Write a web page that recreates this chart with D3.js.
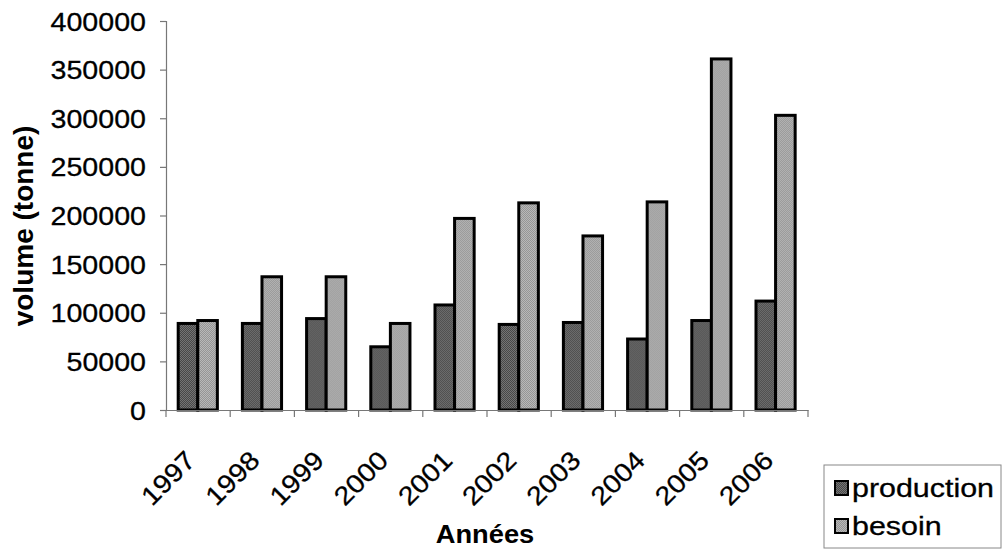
<!DOCTYPE html>
<html>
<head>
<meta charset="utf-8">
<script src="https://cdn.jsdelivr.net/npm/d3@7"></script>
<style>
  html, body { margin: 0; padding: 0; background: #fff; }
  svg { display: block; }
  text { font-family: "Liberation Sans", Arial, sans-serif; fill: #000; }
</style>
</head>
<body>
<svg id="chart" width="1004" height="555"></svg>
<script>
// Annual volumes in tonnes
const years = ["1997","1998","1999","2000","2001","2002","2003","2004","2005","2006"];
const production = [89000, 89000, 94000, 65000, 108000, 88000, 90000, 73000, 92000, 112000];
const besoin = [92000, 137000, 137000, 89000, 197000, 213000, 179000, 214000, 361000, 303000];
const seriesNames = ["production", "besoin"];
const yTicks = [0, 50000, 100000, 150000, 200000, 250000, 300000, 350000, 400000];

const svg = d3.select("#chart");
const plot = { left: 166, right: 808, top: 21, bottom: 410 };

// dithered grey fills
const defs = svg.append("defs");
function dither(id, a, b) {
  const p = defs.append("pattern").attr("id", id).attr("width", 2).attr("height", 2)
    .attr("patternUnits", "userSpaceOnUse");
  p.append("rect").attr("width", 2).attr("height", 2).attr("fill", a);
  p.append("rect").attr("width", 1).attr("height", 1).attr("fill", b);
  p.append("rect").attr("x", 1).attr("y", 1).attr("width", 1).attr("height", 1).attr("fill", b);
}
dither("fill-production", "#484848", "#747474");
dither("fill-besoin", "#959595", "#b8b8b8");
const fills = { production: "url(#fill-production)", besoin: "url(#fill-besoin)" };

const x0 = d3.scaleBand().domain(years).range([plot.left, plot.right]).padding(0);
const bw = x0.bandwidth();
const x1 = d3.scaleBand().domain(seriesNames).range([bw * 0.19, bw * 0.8]).padding(0);
const y = d3.scaleLinear().domain([0, 400000]).range([plot.bottom, plot.top]);

const rows = years.map((yr, i) => ({ year: yr, production: production[i], besoin: besoin[i] }));

// bars
const groups = svg.append("g").selectAll("g").data(rows).join("g")
  .attr("transform", d => `translate(${x0(d.year)},0)`);
groups.selectAll("rect")
  .data(d => seriesNames.map(k => ({ key: k, value: d[k] })))
  .join("rect")
  .attr("x", d => x1(d.key))
  .attr("width", x1.bandwidth())
  .attr("y", d => y(d.value))
  .attr("height", d => y(0) - y(d.value))
  .attr("fill", d => fills[d.key])
  .attr("stroke", "#000")
  .attr("stroke-width", 3);

// y axis
const yAxis = d3.axisLeft(y).tickValues(yTicks).tickSize(6).tickFormat(d3.format("d"));
const gy = svg.append("g").attr("transform", `translate(${plot.left},0)`).call(yAxis);
gy.select(".domain").attr("stroke", "#777").attr("stroke-width", 1.2);
gy.selectAll(".tick line").attr("stroke", "#777").attr("stroke-width", 1.2);
gy.selectAll(".tick text")
  .attr("x", null).attr("dy", null)
  .attr("text-anchor", "end")
  .attr("dominant-baseline", "central")
  .attr("font-size", 26)
  .attr("font-family", "Liberation Sans, Arial, sans-serif")
  .attr("fill", "#000")
  .attr("stroke", "#000").attr("stroke-width", 0.3)
  .attr("transform", "translate(-20,0) scale(1.1,1)");

// x axis
const xAxis = d3.axisBottom(x0).tickSize(0).tickFormat("");
const gx = svg.append("g").attr("transform", `translate(0,${plot.bottom})`).call(xAxis);
gx.select(".domain").attr("stroke", "#777").attr("stroke-width", 1.2);
gx.selectAll(".sep").data(years.concat(["end"])).join("line")
  .attr("class", "sep")
  .attr("x1", (d, i) => plot.left + i * bw).attr("x2", (d, i) => plot.left + i * bw)
  .attr("y1", 0).attr("y2", 7)
  .attr("stroke", "#777").attr("stroke-width", 1.2);

// rotated year labels
svg.append("g").selectAll("text").data(years).join("text")
  .attr("transform", d => `translate(${x0(d) + bw / 2 - 1},462) rotate(-45) scale(1.1,1)`)
  .attr("text-anchor", "end")
  .attr("font-size", 26)
  .attr("stroke", "#000").attr("stroke-width", 0.3)
  .text(d => d);

// axis titles
svg.append("text")
  .attr("transform", "translate(33,226) rotate(-90)")
  .attr("text-anchor", "middle")
  .attr("font-size", 28)
  .attr("font-weight", "bold")
  .text("volume (tonne)");

svg.append("text")
  .attr("transform", "translate(485,543) scale(1.05,1)")
  .attr("text-anchor", "middle")
  .attr("font-size", 26)
  .attr("font-weight", "bold")
  .text("Années");

// legend
const legend = svg.append("g");
legend.append("rect")
  .attr("x", 824).attr("y", 465).attr("width", 177).attr("height", 83)
  .attr("fill", "#fff").attr("stroke", "#888").attr("stroke-width", 1);
const items = legend.selectAll("g.item").data(seriesNames).join("g")
  .attr("class", "item")
  .attr("transform", (d, i) => `translate(835,${497 + i * 38})`);
items.append("rect")
  .attr("y", -16)
  .attr("width", 13).attr("height", 14)
  .attr("fill", d => fills[d])
  .attr("stroke", "#000").attr("stroke-width", 2);
items.append("text")
  .attr("transform", "translate(17,0) scale(1.17,1)")
  .attr("font-size", 26)
  .attr("stroke", "#000").attr("stroke-width", 0.3)
  .text(d => d);
</script>
</body>
</html>
